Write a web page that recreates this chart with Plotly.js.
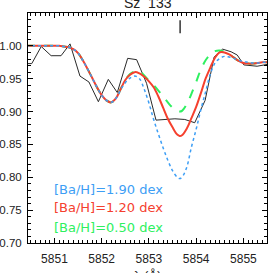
<!DOCTYPE html>
<html>
<head>
<meta charset="utf-8">
<script src="https://cdn.plot.ly/plotly-3.0.1.min.js"></script>
<style>html,body{margin:0;padding:0;background:#fff;}#chart{width:273px;height:273px;}</style>
</head>
<body>
<div id="chart"></div>
<script>
// Observed spectrum
const obsWave = [5850.30, 5850.52, 5850.72, 5850.93, 5851.14, 5851.33, 5851.54, 5851.73, 5851.93, 5852.14, 5852.33, 5852.55, 5852.74, 5852.95, 5853.15, 5853.35, 5853.55, 5853.76, 5853.97, 5854.19, 5854.38, 5854.56, 5854.74, 5854.87, 5855.01, 5855.29, 5855.52];
const obsFlux = [0.973, 0.973, 0.999, 0.985, 0.985, 1.003, 0.954, 0.945, 0.915, 0.949, 0.929, 0.981, 0.979, 0.943, 0.887, 0.888, 0.889, 0.888, 0.883, 0.917, 0.983, 0.995, 0.991, 0.986, 0.971, 0.969, 0.972];

// Synthetic spectra
const modelWave = [5850.4, 5850.5, 5850.6, 5850.7, 5850.8, 5850.9, 5851.0, 5851.1, 5851.2, 5851.3, 5851.4, 5851.5, 5851.6, 5851.7, 5851.8, 5851.9, 5852.0, 5852.1, 5852.2, 5852.3, 5852.4, 5852.5, 5852.6, 5852.7, 5852.8, 5852.9, 5853.0, 5853.1, 5853.2, 5853.3, 5853.4, 5853.5, 5853.6, 5853.65, 5853.7, 5853.8, 5853.9, 5854.0, 5854.1, 5854.2, 5854.3, 5854.4, 5854.5, 5854.6, 5854.7, 5854.8, 5854.9, 5855.0, 5855.1, 5855.2, 5855.3, 5855.4, 5855.5, 5855.6];
const fluxBa120 = [1.000, 1.000, 1.000, 1.000, 1.000, 1.000, 1.000, 1.000, 0.999, 0.998, 0.995, 0.989, 0.978, 0.965, 0.951, 0.937, 0.925, 0.917, 0.914, 0.920, 0.934, 0.948, 0.956, 0.960, 0.958, 0.953, 0.946, 0.937, 0.923, 0.906, 0.889, 0.876, 0.865, 0.863, 0.864, 0.874, 0.890, 0.907, 0.928, 0.950, 0.967, 0.982, 0.990, 0.990, 0.987, 0.982, 0.977, 0.974, 0.973, 0.973, 0.974, 0.975, 0.975, 0.975];
const fluxBa190 = [1.000, 1.000, 1.000, 1.000, 1.000, 1.000, 1.000, 1.000, 0.999, 0.998, 0.995, 0.989, 0.978, 0.965, 0.951, 0.937, 0.925, 0.917, 0.914, 0.920, 0.933, 0.944, 0.951, 0.954, 0.950, 0.934, 0.913, 0.888, 0.866, 0.845, 0.826, 0.810, 0.800, 0.798, 0.800, 0.815, 0.846, 0.873, 0.903, 0.930, 0.957, 0.974, 0.981, 0.984, 0.983, 0.981, 0.978, 0.976, 0.975, 0.974, 0.974, 0.975, 0.975, 0.975];
const fluxBa050 = [1.000, 1.000, 1.000, 1.000, 1.000, 1.000, 1.000, 1.000, 0.999, 0.998, 0.995, 0.989, 0.978, 0.965, 0.951, 0.937, 0.925, 0.917, 0.914, 0.920, 0.934, 0.948, 0.957, 0.961, 0.961, 0.955, 0.947, 0.940, 0.932, 0.923, 0.914, 0.906, 0.901, 0.900, 0.901, 0.911, 0.927, 0.945, 0.964, 0.978, 0.987, 0.992, 0.993, 0.991, 0.987, 0.982, 0.977, 0.974, 0.973, 0.973, 0.974, 0.975, 0.975, 0.975];

// Line marker
const markWave = [5853.66, 5853.66];
const markFlux = [1.019, 1.039];

const titleText = 'Sz  133';
const xTitleText = 'λ (Å)';
const labelTexts = ['[Ba/H]=1.90 dex', '[Ba/H]=1.20 dex', '[Ba/H]=0.50 dex'];
const labelColors = ['#3d9ef5', '#f5402e', '#2ef060'];
const labelFlux = [0.782, 0.7535, 0.724];
const labelWave = 5850.95;

const xTickVals = [5851, 5852, 5853, 5854, 5855];
const xTickText = ['5851', '5852', '5853', '5854', '5855'];
const yTickVals = [0.70, 0.75, 0.80, 0.85, 0.90, 0.95, 1.00];
const yTickText = ['0.70', '0.75', '0.80', '0.85', '0.90', '0.95', '1.00'];

const traces = [
  {x: obsWave, y: obsFlux, mode: 'lines', line: {color: '#2a2a2a', width: 1}, hoverinfo: 'skip'},
  {x: modelWave, y: fluxBa050, mode: 'lines', line: {color: labelColors[2], width: 2, dash: 'dash', shape: 'spline'}, hoverinfo: 'skip'},
  {x: modelWave, y: fluxBa120, mode: 'lines', line: {color: labelColors[1], width: 2, shape: 'spline'}, hoverinfo: 'skip'},
  {x: modelWave, y: fluxBa190, mode: 'lines', line: {color: labelColors[0], width: 1.5, dash: 'dot', shape: 'spline'}, hoverinfo: 'skip'},
  {x: markWave, y: markFlux, mode: 'lines', line: {color: '#000', width: 1.2}, hoverinfo: 'skip'}
];

const FONT = 'Liberation Sans, Arial, sans-serif';
const LFONT = 'DejaVu Sans, sans-serif';
const axisCommon = {
  showline: true, linecolor: '#000', linewidth: 1, mirror: 'allticks',
  ticks: 'inside', ticklen: 5, tickwidth: 1, tickcolor: '#000',
  showgrid: false, zeroline: false,
  tickfont: {family: FONT, size: 12, color: '#222'},
  minor: {ticks: 'inside', ticklen: 3, tickwidth: 1, tickcolor: '#000', showgrid: false}
};

const annotations = labelTexts.map((t, i) => ({
  x: labelWave, y: labelFlux[i], xref: 'x', yref: 'y', text: t, showarrow: false,
  xanchor: 'left', yanchor: 'middle', font: {family: LFONT, size: 13, color: labelColors[i]}
}));
annotations.push({x: 0.5, y: 1.0, xref: 'paper', yref: 'paper', text: titleText, showarrow: false,
  xanchor: 'center', yanchor: 'bottom', font: {family: FONT, size: 14, color: '#222'}});
annotations.push({x: 0.5, y: -0.10, xref: 'paper', yref: 'paper', text: xTitleText, showarrow: false,
  xanchor: 'center', yanchor: 'top', font: {family: FONT, size: 13, color: '#222'}});

const layout = {
  width: 273, height: 273,
  margin: {l: 28, r: 6, t: 13, b: 30},
  paper_bgcolor: '#fff', plot_bgcolor: '#fff',
  showlegend: false,
  font: {family: FONT, color: '#222'},
  xaxis: Object.assign({}, axisCommon, {
    range: [5850.44, 5855.50], tickmode: 'array', tickvals: xTickVals, ticktext: xTickText,
    minor: Object.assign({}, axisCommon.minor, {dtick: 0.1}),
    ticklabelstandoff: 5
  }),
  yaxis: Object.assign({}, axisCommon, {
    range: [0.70, 1.05], tickmode: 'array', tickvals: yTickVals, ticktext: yTickText,
    tickfont: {family: FONT, size: 11.5, color: '#222'},
    minor: Object.assign({}, axisCommon.minor, {dtick: 0.01}),
    ticklabelstandoff: 3
  }),
  annotations: annotations
};

Plotly.newPlot('chart', traces, layout, {staticPlot: true, displayModeBar: false});
</script>
</body>
</html>
